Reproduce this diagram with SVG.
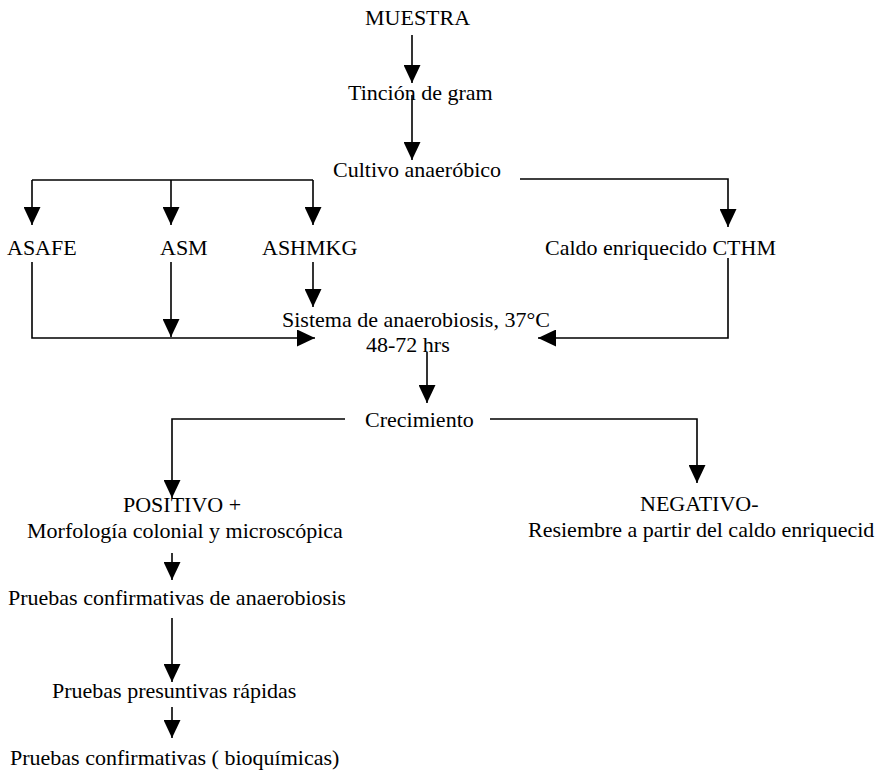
<svg xmlns="http://www.w3.org/2000/svg" width="878" height="773" viewBox="0 0 878 773">
  <style>
    .t { font-family: "Liberation Serif", "Times New Roman", serif; font-size: 22px; fill: #000; }
    .c { fill: none; stroke: #000; stroke-width: 1.6; }
  </style>
  <defs>
    <marker id="ah" viewBox="0 0 18 17" refX="18" refY="8.5" markerWidth="18" markerHeight="17" markerUnits="userSpaceOnUse" orient="auto">
      <path d="M0,0 L18,8.5 L0,17 z" fill="#000"/>
    </marker>
  </defs>
  <rect width="878" height="773" fill="#fff"/>

  <!-- flow connectors -->
  <g id="connectors" class="c" marker-end="url(#ah)">
    <path d="M412,35 V83"/>
    <path d="M412,95 V160"/>
    <path d="M32,180 H313" marker-end="none"/>
    <path d="M32,180 V225"/>
    <path d="M171,180 V225"/>
    <path d="M313,180 V225"/>
    <path d="M520,179 H728 V227"/>
    <path d="M32,262 V338 H315"/>
    <path d="M171,262 V337"/>
    <path d="M313,262 V307"/>
    <path d="M728,258 V338 H538"/>
    <path d="M427,352 V403"/>
    <path d="M345,419 H172 V498"/>
    <path d="M490,419 H697 V483"/>
    <path d="M172,553 V580"/>
    <path d="M172,618 V682"/>
    <path d="M172,707 V738"/>
  </g>

  <!-- nodes -->
  <g id="muestra"><text class="t" x="365" y="25">MUESTRA</text></g>
  <g id="tincion"><text class="t" x="348" y="100">Tinción de gram</text></g>
  <g id="cultivo"><text class="t" x="333" y="177">Cultivo anaeróbico</text></g>
  <g id="asafe"><text class="t" x="7" y="255">ASAFE</text></g>
  <g id="asm"><text class="t" x="160" y="255">ASM</text></g>
  <g id="ashmkg"><text class="t" x="262" y="255">ASHMKG</text></g>
  <g id="caldo"><text class="t" x="545" y="255">Caldo enriquecido CTHM</text></g>
  <g id="sistema">
    <text class="t" x="282" y="327">Sistema de anaerobiosis, 37°C</text>
    <text class="t" x="366" y="352">48-72 hrs</text>
  </g>
  <g id="crecimiento"><text class="t" x="365" y="427">Crecimiento</text></g>
  <g id="positivo">
    <text class="t" x="123" y="512">POSITIVO +</text>
    <text class="t" x="27" y="538">Morfología colonial y microscópica</text>
  </g>
  <g id="negativo">
    <text class="t" x="640" y="511">NEGATIVO-</text>
    <text class="t" x="528" y="537">Resiembre a partir del caldo enriquecid</text>
  </g>
  <g id="anaerobiosis"><text class="t" x="8" y="605">Pruebas confirmativas de anaerobiosis</text></g>
  <g id="presuntivas"><text class="t" x="52" y="698">Pruebas presuntivas rápidas</text></g>
  <g id="bioquimicas"><text class="t" x="10" y="765">Pruebas confirmativas ( bioquímicas)</text></g>
</svg>
